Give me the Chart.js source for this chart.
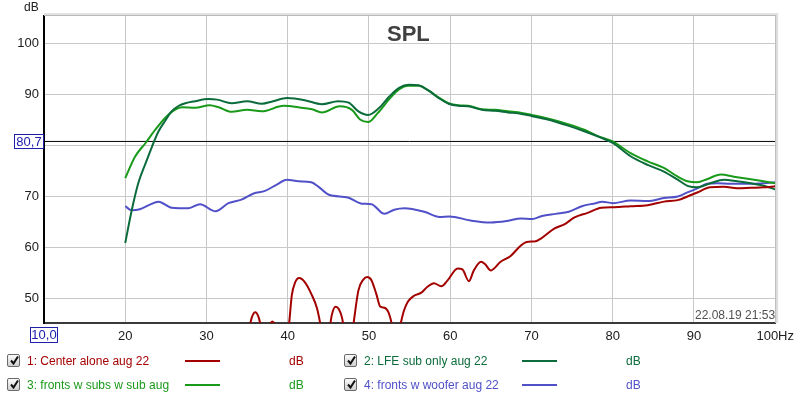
<!DOCTYPE html>
<html>
<head>
<meta charset="utf-8">
<title>SPL</title>
<script src="https://cdn.jsdelivr.net/npm/chart.js@4.4.0/dist/chart.umd.min.js"></script>
<style>
  body { margin: 0; background: #fff; font-family: "Liberation Sans", Arial, sans-serif; }
  #wrap { position: relative; width: 800px; height: 399px; overflow: hidden; }
  #wrap canvas { position: absolute; left: 0; top: 0; }
  .lbl { position: absolute; white-space: nowrap; line-height: 1; }
  .box { position: absolute; border: 1px solid #2020b0; background: #fff; color: #2020b0;
         font-size: 13px; line-height: 13px; text-align: center; box-sizing: border-box; }
  .chk { position: absolute; width: 13px; height: 13px; box-sizing: border-box;
         border: 1px solid #6a6a6a; border-radius: 2px;
         background: linear-gradient(#fbfbfb, #cfcfcf); }
  .chk svg { position: absolute; left: 1px; top: 0px; }
  .sample { position: absolute; height: 2px; width: 35px; }
</style>
</head>
<body>
<div id="wrap">
  <canvas id="myChart" width="800" height="399"></canvas>
</div>
<script>
// level cursor and axis
const cursorDb = 80.7;
const xTicks = [10, 20, 30, 40, 50, 60, 70, 80, 90, 100];

// 1: Center alone aug 22
const centerHz = [20,25,30,34,35.3,35.6,36.0,36.4,36.7,37.2,37.8,38.1,38.4,39.0,39.8,40.2,40.5,40.9,41.4,42.1,42.9,43.6,44.0,44.5,45.0,45.4,45.9,46.3,46.7,47.0,47.5,48.1,48.7,49.3,49.8,50.3,50.9,51.4,51.9,52.4,52.8,53.3,53.9,54.3,54.8,55.6,56.4,57.2,58.0,58.9,59.7,60.9,61.5,62.3,62.9,63.8,64.3,65.0,66.2,67.4,68.7,69.4,70.4,71.2,72.8,74.1,75.3,76.9,78.6,80.2,82.2,84.3,86.3,88.0,89.2,90.4,92.0,93.7,95.3,97.0,98.6,100];
const centerDb = [30,32,35,40,44.5,46.3,47.2,46.3,44.5,42,44.8,45.4,44.8,40,40,45.5,50.5,53.0,53.9,53.1,50.8,48.0,45.0,40,42,46.5,48.3,47.8,46.0,43,38,45,51.5,53.6,54.1,53.5,50.8,48.3,48.1,47.2,45,41,45,47.5,49.3,50.5,51.0,52.2,52.9,52.3,53.5,55.8,55.6,53.3,55.4,57.1,56.6,55.4,57.1,58.2,60.3,61.0,61.1,61.7,63.6,64.5,65.8,66.7,67.7,67.8,68.0,68.2,68.9,69.2,69.9,70.7,71.7,71.8,71.5,71.6,71.7,71.9];

// 2: LFE sub only aug 22
const lfeHz = [20,20.8,21.6,22.5,23.3,24.1,24.9,25.7,26.6,27.4,28.6,30.2,31.3,33.1,35.0,36.8,38.2,39.9,42.1,44.2,46.2,47.5,48.7,49.9,51.2,52.5,53.7,54.9,56.1,57.3,58.6,59.8,61.0,62.2,63.9,65.5,67.1,68.8,70.0,72.0,74.5,76.5,78.6,80.0,82.2,84.3,86.3,88.0,89.2,90.4,92.0,93.7,95.3,97.0,98.6,100];
const lfeDb = [60.8,67.2,72.5,76.4,79.7,82.7,84.7,86.6,87.7,88.2,88.6,89.0,88.9,88.2,88.6,88.1,88.6,89.2,88.8,88.0,88.6,88.3,86.6,85.9,87.2,89.5,91.2,91.8,91.7,90.7,89.2,88.1,87.7,87.6,86.9,86.7,86.4,86.1,85.7,85.0,83.8,82.7,81.4,80.4,77.8,76.1,74.8,73.2,72.0,71.7,72.5,73.2,72.9,72.5,72.0,71.3];

// 3: fronts w subs w sub aug
const subsHz = [20,21.2,22.5,23.7,24.9,25.9,27.0,28.6,30.4,31.5,33.1,35.0,36.8,39.5,41.3,43.0,44.2,46.4,47.9,48.9,49.9,51.1,52.5,53.7,54.9,56.1,57.3,58.6,59.8,61.0,62.2,63.9,65.5,67.1,68.8,70.0,72.0,74.5,76.5,78.1,80,82.2,84.3,86.3,88.0,89.2,90.4,91.6,93.3,94.9,96.6,98.2,100];
const subsDb = [73.5,77.7,80.4,83.0,85.3,86.7,87.4,87.3,87.8,87.4,86.5,86.9,86.6,87.7,87.4,87.0,86.4,87.6,86.9,85.0,84.5,86.3,89.0,90.9,91.6,91.6,90.7,89.3,88.2,87.8,87.7,87.0,86.9,86.6,86.3,85.9,85.2,84.1,83.0,81.8,80.7,78.4,76.8,75.5,73.8,72.9,72.7,73.3,74.2,73.8,73.4,73.0,72.5];

// 4: fronts w woofer aug 22
const wooferHz = [20,20.8,21.8,22.9,24.1,25.7,27.8,29.2,31.1,32.7,34.3,35.8,37.2,38.6,39.9,41.3,42.9,43.8,45.0,47.4,49.1,50.3,51.9,53.1,54.4,56.8,58.7,59.9,62.5,65.0,67.0,68.7,70.1,71.3,73.0,74.6,76.2,77.9,78.7,80.0,82.2,84.3,86.3,88.0,89.2,90.4,91.6,92.9,94.5,96.6,98.6,100];
const wooferDb = [68.0,67.2,67.4,68.2,68.9,67.7,67.6,68.4,67.0,68.6,69.3,70.5,71.0,72.2,73.2,72.9,72.7,71.8,70.3,69.7,68.5,68.4,66.5,67.3,67.6,66.9,65.9,66.0,65.2,64.8,65.1,65.6,65.5,66.1,66.5,66.9,68.0,68.6,68.9,68.6,69.1,69.0,69.6,69.9,70.7,71.5,72.4,72.5,72.4,72.4,72.5,72.7];

const series = [
  { name: "1: Center alone aug 22",     color: "#a30000", hz: centerHz, db: centerDb },
  { name: "2: LFE sub only aug 22",     color: "#0b6b3a", hz: lfeHz,    db: lfeDb },
  { name: "3: fronts w subs w sub aug", color: "#1a9a1a", hz: subsHz,   db: subsDb },
  { name: "4: fronts w woofer aug 22",  color: "#5050c8", hz: wooferHz, db: wooferDb }
];

function toPoints(hz, db){
  var pts = [];
  for (var i = 0; i < hz.length; i++){
    pts.push({ x: hz[i], y: db[i] });
  }
  return pts;
}

var datasets = series.map(function(s){
  return {
    label: s.name,
    data: toPoints(s.hz, s.db),
    borderColor: s.color,
    borderWidth: 2,
    pointRadius: 0,
    cubicInterpolationMode: "monotone",
    order: 1
  };
});
datasets.push({
  label: "cursor",
  data: [{ x: xTicks[0], y: cursorDb }, { x: xTicks[xTicks.length - 1], y: cursorDb }],
  borderColor: "#000",
  borderWidth: 1,
  pointRadius: 0,
  order: 5
});

// grey frame on top and right, like the REW graph
const plotFrame = {
  id: "plotFrame",
  afterDraw(chart){
    const a = chart.chartArea, ctx = chart.ctx;
    ctx.save();
    ctx.strokeStyle = "#e2e2e2";
    ctx.lineWidth = 3;
    ctx.beginPath();
    ctx.moveTo(a.left, a.top - 1.5);
    ctx.lineTo(a.right + 1.5, a.top - 1.5);
    ctx.lineTo(a.right + 1.5, a.bottom);
    ctx.stroke();
    ctx.strokeStyle = "#b8b8b8";
    ctx.lineWidth = 1;
    ctx.beginPath();
    ctx.moveTo(a.left, a.top - 0.5);
    ctx.lineTo(a.right + 0.5, a.top - 0.5);
    ctx.lineTo(a.right + 0.5, a.bottom);
    ctx.stroke();
    ctx.restore();
  }
};

Chart.defaults.font.family = "'Liberation Sans', Arial, sans-serif";
Chart.defaults.font.size = 13;
Chart.defaults.color = "#202020";

new Chart("myChart", {
  type: "line",
  data: { datasets: datasets },
  plugins: [plotFrame],
  options: {
    responsive: false,
    animation: false,
    layout: { padding: { top: 16, right: 22, left: 0, bottom: 0 } },
    plugins: { legend: { display: false }, title: { display: false }, tooltip: { enabled: false } },
    scales: {
      x: {
        type: "linear",
        min: 10,
        max: 100,
        afterFit: function(scale){ scale.height = 76; },
        afterBuildTicks: function(scale){ scale.ticks = xTicks.map(function(v){ return { value: v }; }); },
        ticks: {
          autoSkip: false,
          maxRotation: 0,
          padding: 6,
          color: "#202020",
          callback: function(v){ return v === 10 ? "" : (v === 100 ? "100Hz" : String(v)); }
        },
        grid: { color: "#c8c8c8", drawTicks: false },
        border: { color: "#3a3a3a", width: 2 }
      },
      y: {
        min: 45.1,
        max: 105.3,
        afterFit: function(scale){ scale.width = 44; },
        ticks: {
          stepSize: 10,
          includeBounds: false,
          padding: 5,
          color: "#202020",
          callback: function(v){ return v === 80 ? "" : String(v); }
        },
        grid: { color: "#c8c8c8", drawTicks: false },
        border: { color: "#000", width: 2 }
      }
    }
  }
});

// overlay texts: title, unit, cursor boxes, timestamp, legend
var wrap = document.getElementById("wrap");
function addLabel(text, left, top, size, color, extra){
  var d = document.createElement("div");
  d.className = "lbl";
  d.textContent = text;
  d.style.left = left + "px";
  d.style.top = top + "px";
  d.style.fontSize = size + "px";
  d.style.color = color;
  if (extra) d.style.cssText += extra;
  wrap.appendChild(d);
  return d;
}
function addBox(text, left, top, w, h){
  var d = document.createElement("div");
  d.className = "box";
  d.textContent = text;
  d.style.left = left + "px";
  d.style.top = top + "px";
  d.style.width = w + "px";
  d.style.height = h + "px";
  wrap.appendChild(d);
}

addLabel("SPL", 387, 23, 22, "#404040", "font-weight:bold;");
addLabel("dB", 24, 1, 12, "#202020");
addBox(String(cursorDb).replace(".", ","), 14, 134, 30, 15);
addBox("10,0", 30, 327, 28, 16);
addLabel("22.08.19 21:53", 695, 309, 12, "#505050");

var cols = [7, 344];
var rows = [354, 378];
for (var i = 0; i < series.length; i++){
  var cx = cols[i % 2], ry = rows[Math.floor(i / 2)];
  var chk = document.createElement("div");
  chk.className = "chk";
  chk.style.left = cx + "px";
  chk.style.top = ry + "px";
  chk.innerHTML = '<svg width="11" height="11" viewBox="0 0 11 11"><path d="M2 5.5 L4.5 8.5 L9 1.5" fill="none" stroke="#111" stroke-width="2"/></svg>';
  wrap.appendChild(chk);
  addLabel(series[i].name, cx + 20, ry + 0.5, 12, series[i].color);
  var s = document.createElement("div");
  s.className = "sample";
  s.style.left = (cx + 178) + "px";
  s.style.top = (ry + 6) + "px";
  s.style.background = series[i].color;
  wrap.appendChild(s);
  addLabel("dB", cx + 282, ry + 0.5, 12, series[i].color);
}
</script>
</body>
</html>
